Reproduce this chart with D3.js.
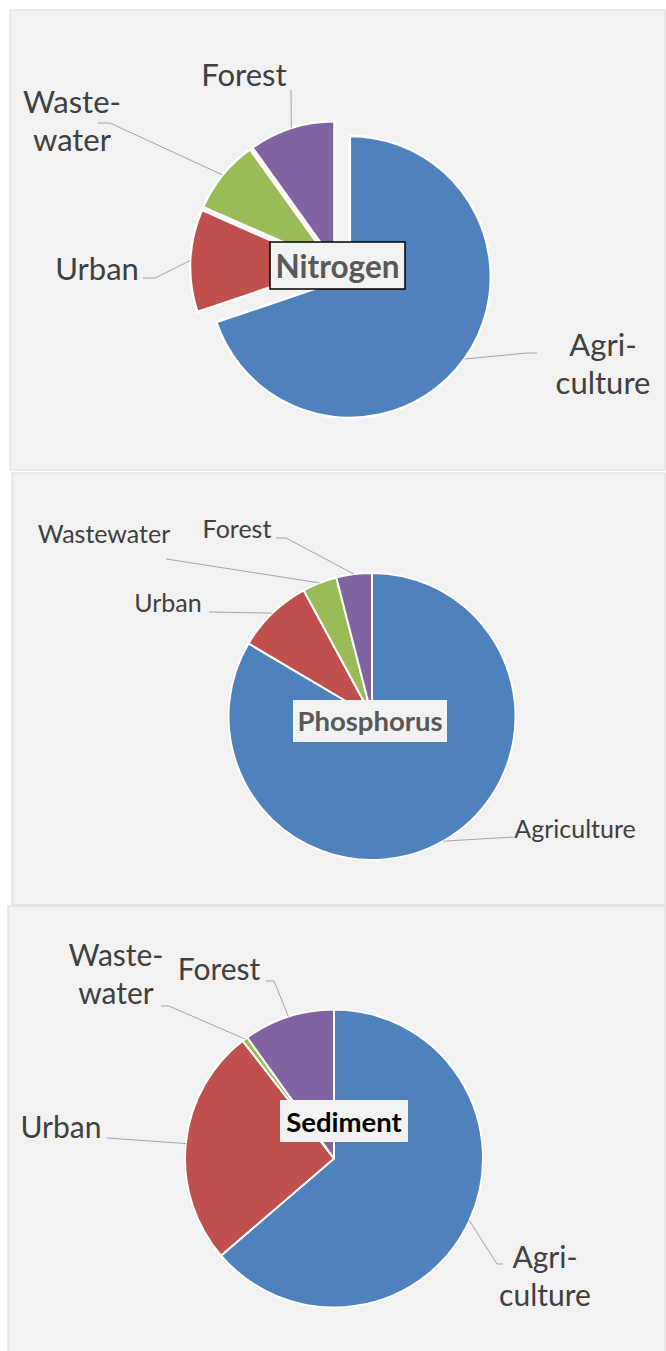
<!DOCTYPE html>
<html>
<head>
<meta charset="utf-8">
<script src="https://cdn.jsdelivr.net/npm/d3@7"></script>
<style>
  html, body { margin: 0; padding: 0; background: #ffffff; }
  svg { display: block; }
  text { font-family: Lato, "Open Sans", sans-serif; }
</style>
</head>
<body>
<script>
// ---------- data ----------
const categories = ["Agriculture", "Urban", "Wastewater", "Forest"];
const nitrogenValues   = [69.8, 11.8, 8.5, 9.9];
const phosphorusValues = [83.5, 8.6, 3.9, 4.0];
const sedimentValues   = [63.7, 25.8, 0.6, 9.9];
const chartTitles = ["Nitrogen", "Phosphorus", "Sediment"];
const nitrogenLabels   = [["Agri-", "culture"], ["Urban"], ["Waste-", "water"], ["Forest"]];
const phosphorusLabels = [["Agriculture"], ["Urban"], ["Wastewater"], ["Forest"]];
const sedimentLabels   = [["Agri-", "culture"], ["Urban"], ["Waste-", "water"], ["Forest"]];

// ---------- style ----------
const colors = d3.scaleOrdinal().domain(categories)
  .range(["#4f81bd", "#c0504d", "#9bbb59", "#8064a2"]);

const W = 666, H = 1351;
const svg = d3.select("body").append("svg").attr("width", W).attr("height", H);

const panels = [
  {x: 10, y: 10, w: 655, h: 460},
  {x: 12, y: 473, w: 653, h: 432},
  {x: 8, y: 906, w: 657, h: 452}
];

const configs = [
  {
    values: nitrogenValues, labels: nitrogenLabels, title: chartTitles[0],
    cx: 336, cy: 267, r: 141, explode: [17, 5, 5, 5], stroke: 2.5,
    fontSize: 31, lineH: 38,
    labelPos: [[603, 356], [97, 280], [72, 113], [244, 86]],
    leader: [[[527, 353], [537, 353]], [[155, 278], [143, 278]], [[110, 123], [98, 123]], [[291, 90]]],
    titleBox: {x: 270, y: 242, w: 135, h: 47, border: true}, titleSize: 31.5, titleBase: 277.5, titleColor: "#595959"
  },
  {
    values: phosphorusValues, labels: phosphorusLabels, title: chartTitles[1],
    cx: 372, cy: 716.5, r: 143.5, explode: [0, 0, 0, 0], stroke: 2,
    fontSize: 25, lineH: 30,
    labelPos: [[575, 838], [168, 612], [104, 543], [237, 538]],
    leader: [[[514, 837]], [[209, 612]], [[173, 560], [166, 559]], [[286, 538], [276, 538]]],
    titleBox: {x: 293, y: 700, w: 154, h: 42, border: false}, titleSize: 27.5, titleBase: 731, titleColor: "#595959"
  },
  {
    values: sedimentValues, labels: sedimentLabels, title: chartTitles[2],
    cx: 334, cy: 1158.5, r: 149, explode: [0, 0, 0, 0], stroke: 2,
    fontSize: 30, lineH: 38,
    labelPos: [[545, 1268], [61, 1138], [116, 966], [219, 980]],
    leader: [[[497, 1264], [503, 1264]], [[107, 1138]], [[169, 1006], [161, 1006]], [[274, 981], [266, 981]]],
    titleBox: {x: 280, y: 1100, w: 128, h: 42, border: false}, titleSize: 27.5, titleBase: 1131.5, titleColor: "#000000"
  }
];

// panel backgrounds
svg.selectAll("rect.panel").data(panels).join("rect")
  .attr("class", "panel")
  .attr("x", d => d.x).attr("y", d => d.y)
  .attr("width", d => d.w).attr("height", d => d.h)
  .attr("fill", "#f2f2f2").attr("stroke", "#d9d9d9").attr("stroke-width", 1);

const pie = d3.pie().sort(null).value(d => d.value);

configs.forEach(cfg => {
  const data = categories.map((c, i) => ({cat: c, value: cfg.values[i], idx: i}));
  const arcs = pie(data);
  const arc = d3.arc().innerRadius(0).outerRadius(cfg.r);
  const g = svg.append("g").attr("transform", `translate(${cfg.cx},${cfg.cy})`);

  const offset = d => {
    const mid = (d.startAngle + d.endAngle) / 2;
    const e = cfg.explode[d.data.idx];
    return [e * Math.sin(mid), -e * Math.cos(mid)];
  };

  g.selectAll("path.slice").data(arcs).join("path")
    .attr("class", "slice")
    .attr("transform", d => { const o = offset(d); return `translate(${o[0]},${o[1]})`; })
    .attr("d", arc)
    .attr("fill", d => colors(d.data.cat))
    .attr("stroke", "#ffffff").attr("stroke-width", cfg.stroke).attr("stroke-linejoin", "round");

  // leader lines
  const line = d3.line();
  arcs.forEach(d => {
    const mid = (d.startAngle + d.endAngle) / 2;
    const o = offset(d);
    const p0 = [cfg.cx + o[0] + cfg.r * Math.sin(mid), cfg.cy + o[1] - cfg.r * Math.cos(mid)];
    const pts = [p0].concat(cfg.leader[d.data.idx]);
    svg.append("path").attr("d", line(pts))
      .attr("fill", "none").attr("stroke", "#a6a6a6").attr("stroke-width", 1);
  });

  // labels
  arcs.forEach(d => {
    const i = d.data.idx;
    const [lx, ly] = cfg.labelPos[i];
    const t = svg.append("text")
      .attr("x", lx).attr("y", ly)
      .attr("text-anchor", "middle")
      .attr("font-size", cfg.fontSize)
      .attr("fill", "#404040");
    cfg.labels[i].forEach((ln, k) => {
      t.append("tspan").attr("x", lx).attr("y", ly + k * cfg.lineH).text(ln);
    });
  });

  // title box
  const tb = cfg.titleBox;
  svg.append("rect").attr("x", tb.x).attr("y", tb.y).attr("width", tb.w).attr("height", tb.h)
    .attr("fill", "#f2f2f2")
    .attr("stroke", tb.border ? "#000000" : "none").attr("stroke-width", 1.5);
  svg.append("text").attr("x", tb.x + tb.w / 2).attr("y", cfg.titleBase)
    .attr("text-anchor", "middle").attr("font-size", cfg.titleSize).attr("font-weight", "bold")
    .attr("fill", cfg.titleColor).text(cfg.title);
});
</script>
</body>
</html>
